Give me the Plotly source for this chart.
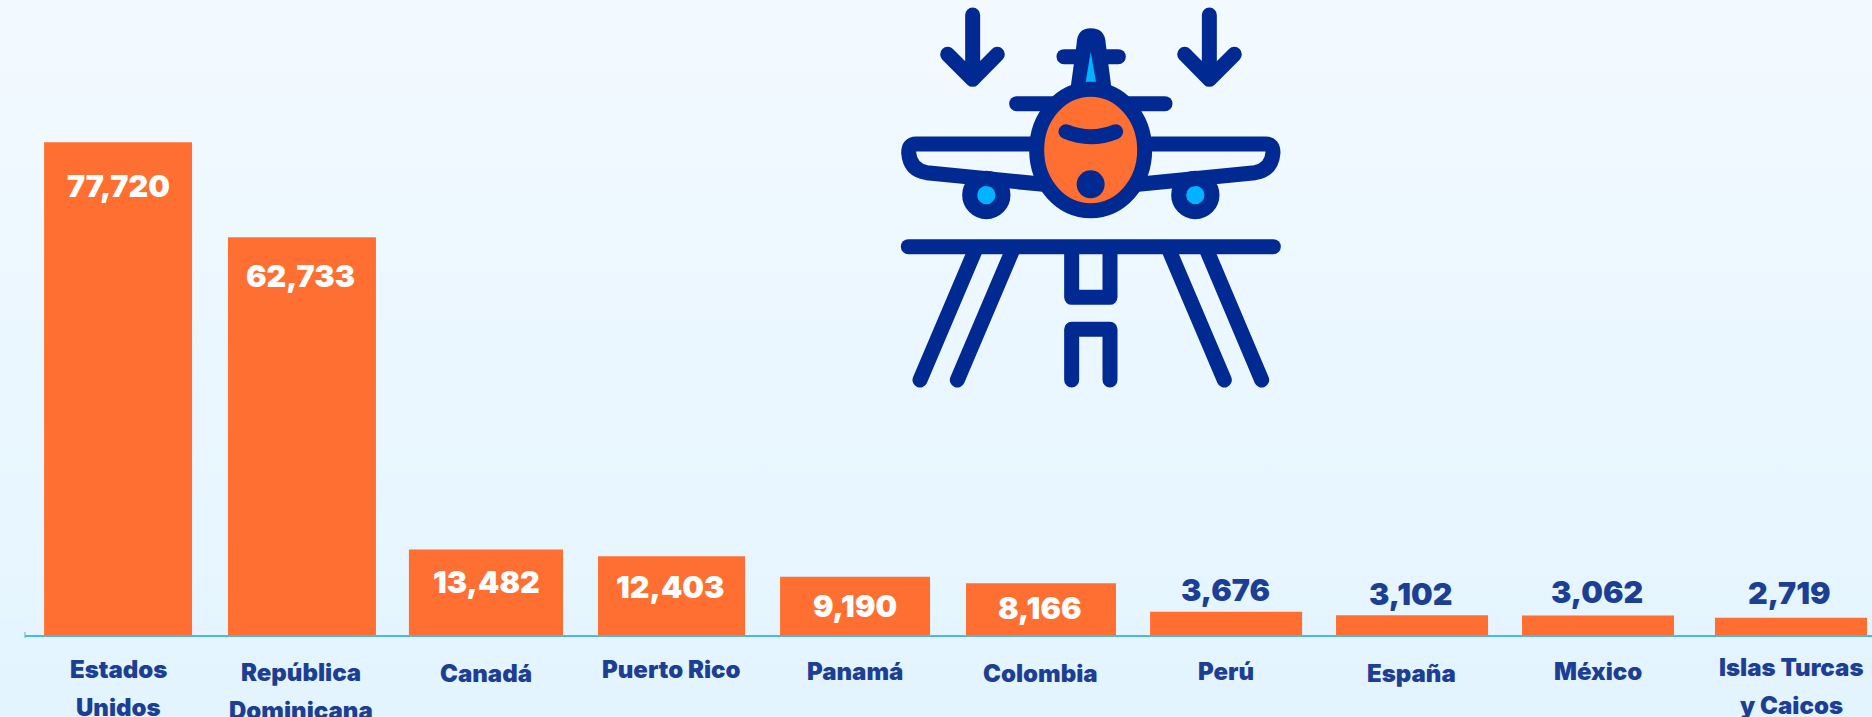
import base64
import plotly.graph_objects as go

# --- data ---
categories = ["Estados Unidos", "República Dominicana", "Canadá", "Puerto Rico", "Panamá",
              "Colombia", "Perú", "España", "México", "Islas Turcas y Caicos"]
values = [77720, 62733, 13482, 12403, 9190, 8166, 3676, 3102, 3062, 2719]
category_lines = [["Estados", "Unidos"], ["República", "Dominicana"], ["Canadá"], ["Puerto Rico"],
                  ["Panamá"], ["Colombia"], ["Perú"], ["España"], ["México"],
                  ["Islas Turcas", "y Caicos"]]

# --- layout / style (hand-placed infographic, so per-bar tweaks) ---
bar_width = [.799, .799, .832, .794, .81, .81, .821, .821, .821, .821]
bar_offset = [-.397, -.404, -.427, -.406, -.423, -.419, -.425, -.421, -.417, -.375]
value_y_px = [186, 276, 581, 586, 605, 607, 589, 593, 591, 592]
value_xshift = [.4, -2, -2, -3, -3.4, -3.6, -3.8, -3, -2, 4.6]
label_y_px = [[670, 707], [672, 710], [673], [670], [671], [673], [671], [673], [671], [667, 705]]
label_xshift = [.4, -1.8, -2, -2.2, -3.4, -3.6, -2.8, -3, -1.2, 6.6]
value_colors = ["#ffffff"] * 6 + ["#1c3f94"] * 4

W, H = 1872, 717
PLOT_L, PLOT_B = 25, 82
PLOT_H = H - PLOT_B
ORANGE, NAVY, CYAN = "#ff6f31", "#002a92", "#00b2ff"
FONT = "Inter"


def data_uri(svg):
    return "data:image/svg+xml;base64," + base64.b64encode(svg.encode()).decode()


background = f'''<svg xmlns="http://www.w3.org/2000/svg" width="{W}" height="{H}">
<defs><linearGradient id="g" x1="0" y1="0" x2="0" y2="1">
<stop offset="0" stop-color="#f3faff"/><stop offset="1" stop-color="#e3f4ff"/></linearGradient></defs>
<rect width="{W}" height="{H}" fill="url(#g)"/></svg>'''

icon = f'''<svg xmlns="http://www.w3.org/2000/svg" width="{W}" height="{H}" viewBox="0 0 {W} {H}">
<g transform="translate(880,0) scale(0.33333)" fill="none" stroke="{NAVY}" stroke-width="45"
   stroke-linecap="round" stroke-linejoin="round">
<path d="M278,45 L278,238 M203,163 L278,238 L352,163"/>
<path d="M988,45 L988,238 M914,163 L988,238 L1063,163"/>
<path d="M552,170 L715,170"/>
<path d="M572,262 L590,130 Q592,85 632,85 Q675,85 677,130 L694,262 Z" fill="{NAVY}" stroke="none"/>
<path d="M632,155 L617,246 L648,246 Z" fill="{CYAN}" stroke="none"/>
<path d="M410,311 L855,311"/>
<circle cx="319" cy="585" r="50" fill="{CYAN}"/>
<circle cx="946" cy="585" r="50" fill="{CYAN}"/>
<path d="M455,432 L108,432 Q86,432 86,458 Q90,510 140,518 L490,553"/>
<path d="M810,432 L1157,432 Q1179,432 1179,458 Q1175,510 1125,518 L775,553"/>
<ellipse cx="632" cy="450" rx="162" ry="182" fill="{ORANGE}"/>
<path d="M558,395 Q632,425 707,395"/>
<circle cx="632" cy="553" r="42" fill="{NAVY}" stroke="none"/>
<path d="M85,740 L1180,740"/>
<path d="M288,745 L120,1140 M400,745 L232,1140 M865,745 L1033,1140 M978,745 L1145,1140"/>
<path d="M575,745 L575,892 L690,892 L690,745"/>
<path d="M575,1140 L575,988 L690,988 L690,1140"/>
</g></svg>'''

fig = go.Figure(go.Bar(
    x=categories, y=values, width=bar_width, offset=bar_offset,
    marker=dict(color=ORANGE, line_width=0), hoverinfo="x+y",
))

annotations = []
for cat, val, y, shift, col in zip(categories, values, value_y_px, value_xshift, value_colors):
    annotations.append(dict(
        x=cat, xref="x", y=1 - y / PLOT_H, yref="paper", xshift=shift,
        text=f"{val:,}", showarrow=False, xanchor="center", yanchor="middle",
        font=dict(family=FONT, size=30.5, color=col, weight=900),
    ))
for cat, lines, ys, shift in zip(categories, category_lines, label_y_px, label_xshift):
    for line, y in zip(lines, ys):
        annotations.append(dict(
            x=cat, xref="x", y=1 - y / PLOT_H, yref="paper", xshift=shift,
            text=line, showarrow=False, xanchor="center", yanchor="middle",
            font=dict(family=FONT, size=24, color="#1c3f94", weight=900),
        ))

fig.update_layout(
    width=W, height=H, autosize=False,
    margin=dict(l=PLOT_L, r=0, t=0, b=PLOT_B, pad=0),
    paper_bgcolor="#eef8ff", plot_bgcolor="rgba(0,0,0,0)",
    showlegend=False, annotations=annotations,
    images=[
        dict(source=data_uri(background), xref="paper", yref="paper", x=-PLOT_L / (W - PLOT_L), y=1,
             sizex=W / (W - PLOT_L), sizey=H / PLOT_H, xanchor="left", yanchor="top",
             sizing="stretch", layer="below"),
        dict(source=data_uri(icon), xref="paper", yref="paper", x=-PLOT_L / (W - PLOT_L), y=1,
             sizex=W / (W - PLOT_L), sizey=H / PLOT_H, xanchor="left", yanchor="top",
             sizing="stretch", layer="above"),
    ],
    shapes=[dict(type="line", xref="paper", yref="paper", x0=0, x1=0,
                 y0=-3 / PLOT_H, y1=3 / PLOT_H, line=dict(color="#4db8e8", width=1))],
    xaxis=dict(type="category", range=[-0.5, 9.473], showgrid=False, zeroline=False,
               showline=True, linecolor="#4db8e8", linewidth=2, ticks="", showticklabels=False,
               fixedrange=True),
    yaxis=dict(range=[0, 100158], visible=False, fixedrange=True),
)
fig.write_html("out.html", config={"displayModeBar": False},
               post_script="document.body.style.margin='0';document.documentElement.style.overflow='hidden';")
